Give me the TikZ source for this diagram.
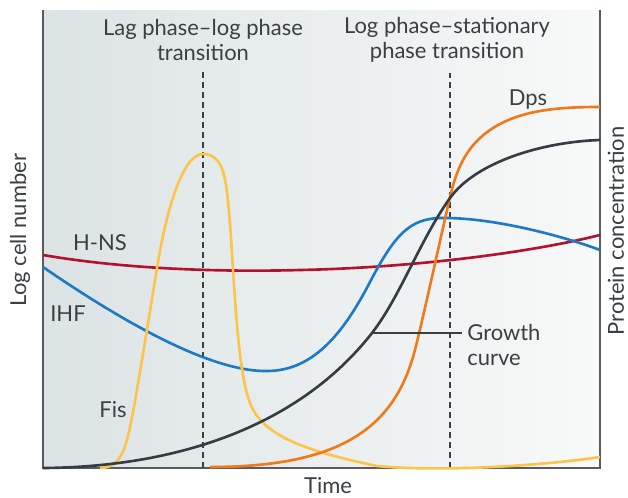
\documentclass[tikz,border=0pt]{standalone}
\usepackage{fontspec}
\setmainfont{Lato}
\usepackage{tikz}
\usepackage{xcolor}
\definecolor{ink}{HTML}{3A3F44}
\definecolor{growth}{HTML}{353C44}
\definecolor{dps}{HTML}{F07A1A}
\definecolor{ihf}{HTML}{1C7BC4}
\definecolor{hns}{HTML}{B3122E}
\definecolor{fis}{HTML}{FCC54A}
\definecolor{bgleft}{HTML}{DCE3E4}
\definecolor{bgright}{HTML}{F8F9F9}

\begin{document}
\begin{tikzpicture}[
    x=0.02cm, y=-0.02cm,
    curve/.style={line width=1.5pt},
    lbl/.style={text=ink, font=\fontsize{12.5}{14.5}\selectfont, inner sep=0pt},
    phase/.style={lbl, align=center},
    axis/.style={draw=ink!85, line width=0.7pt},
    guide/.style={draw=ink, line width=0.6pt, dash pattern=on 0.12cm off 0.08cm}
]
\useasboundingbox (0,0) rectangle (628,497);

% shaded plot area and axes
\fill[left color=bgleft, right color=bgright] (43,10) rectangle (600,468);
\draw[axis] (43,10) -- (43,468) -- (600,468) -- (600,10);

% phase transitions
\node[phase] (lagt) at (203,40) {Lag phase--log phase\\transition};
\node[phase] (statt) at (447,40) {Log phase--stationary\\phase transition};
\coordinate (lagbot) at (203,468);
\coordinate (statbot) at (450,468);
\draw[guide] (lagbot) -- (lagbot |- 0,70);
\draw[guide] (statbot) -- (statbot |- 0,73);

% protein curves
\draw[curve, hns] (43,255) .. controls (130,270) and (230,272) .. (300,270)
  .. controls (400,268) and (520,255) .. (600,235);
\draw[curve, ihf] (43,267) .. controls (120,320) and (210,372) .. (267,371)
  .. controls (315,371) and (345,330) .. (370,282)
  .. controls (395,234) and (410,219) .. (440,218)
  .. controls (490,217) and (560,235) .. (600,250);
\draw[curve, fis] (100,468) .. controls (120,468) and (125,450) .. (130,427)
  .. controls (136,400) and (150,310) .. (158,262)
  .. controls (166,214) and (182,154) .. (203,154)
  .. controls (213,154) and (220,160) .. (224,175)
  .. controls (229,195) and (231,240) .. (234,285)
  .. controls (237,330) and (241,380) .. (250,403)
  .. controls (262,434) and (300,450) .. (377,466)
  .. controls (440,472) and (540,466) .. (600,457);
\draw[curve, dps] (210,467) .. controls (340,467) and (392,428) .. (413,357)
  .. controls (420,333) and (440,240) .. (450,197)
  .. controls (458,163) and (470,140) .. (500,124)
  .. controls (530,108) and (570,107) .. (600,107);
\draw[curve, growth] (43,468) .. controls (180,467) and (300,425) .. (372,333)
  .. controls (400,297) and (420,240) .. (450,198)
  .. controls (475,163) and (540,142) .. (600,140);

% curve labels
\node[lbl] (dpsl) at (528,100) {Dps};
\node[lbl] (hnsl) at (100,243) {H-NS};
\node[lbl] (ihfl) at (68,314) {IHF};
\node[lbl] (fisl) at (113,410) {Fis};
\node[lbl, align=left, anchor=west] (growthl) at (467,345) {Growth\\curve};
\coordinate (gc) at (372,333);
\draw[ink, line width=0.6pt] (gc) -- ([xshift=-3pt]gc -| growthl.west);

% axis titles
\node[lbl, anchor=base] (timel) at (328,493) {Time};
\node[lbl, rotate=90] (cells) at (20,230) {Log cell number};
\node[lbl, rotate=90] (prot) at (616,231) {Protein concentration};
\end{tikzpicture}
\end{document}
